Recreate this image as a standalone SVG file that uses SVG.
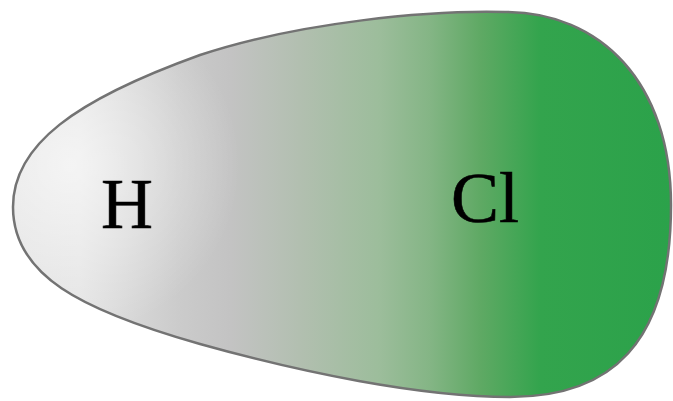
<svg xmlns="http://www.w3.org/2000/svg" width="673" height="401" viewBox="0 0 673 401">
  <defs>
    <linearGradient id="hclFill" gradientUnits="userSpaceOnUse" x1="13" y1="0" x2="672" y2="0">
      <stop offset="0" stop-color="#e2e2e2"/>
      <stop offset="0.1" stop-color="#e4e4e4"/>
      <stop offset="0.253" stop-color="#cbcbcb"/>
      <stop offset="0.33" stop-color="#c3c3c3"/>
      <stop offset="0.435" stop-color="#b2bfb0"/>
      <stop offset="0.557" stop-color="#9cbd9b"/>
      <stop offset="0.633" stop-color="#84b585"/>
      <stop offset="0.709" stop-color="#5fa964"/>
      <stop offset="0.80" stop-color="#33a44d"/>
      <stop offset="1" stop-color="#2ba24a"/>
    </linearGradient>
    <radialGradient id="hclGlow" gradientUnits="userSpaceOnUse" cx="70" cy="165" r="170">
      <stop offset="0" stop-color="#ffffff" stop-opacity="0.6"/>
      <stop offset="1" stop-color="#ffffff" stop-opacity="0"/>
    </radialGradient>
    <style>
      .atom { font-family: "Liberation Serif", "Times New Roman", serif; font-size: 72px; fill: #000; stroke: #000; stroke-width: 0.6; }
      .outline { stroke: #737373; stroke-width: 2.5; }
    </style>
  </defs>
  <rect width="673" height="401" fill="#ffffff"/>
  <g id="molecule">
    <path id="cloud" d="M 13,207 C 13,145 75,100 200,55 C 300,22 430,10 505,12 C 600,12 671,82 671,205 C 671,345 610,397 510,397 C 420,397 300,372 200,344 C 80,310 13,275 13,207 Z" fill="url(#hclFill)"/>
    <path class="outline" d="M 13,207 C 13,145 75,100 200,55 C 300,22 430,10 505,12 C 600,12 671,82 671,205 C 671,345 610,397 510,397 C 420,397 300,372 200,344 C 80,310 13,275 13,207 Z" fill="url(#hclGlow)"/>
  </g>
  <g id="atom-H"><text class="atom" x="101" y="228">H</text></g>
  <g id="atom-Cl"><text class="atom" x="451" y="222">Cl</text></g>
</svg>
